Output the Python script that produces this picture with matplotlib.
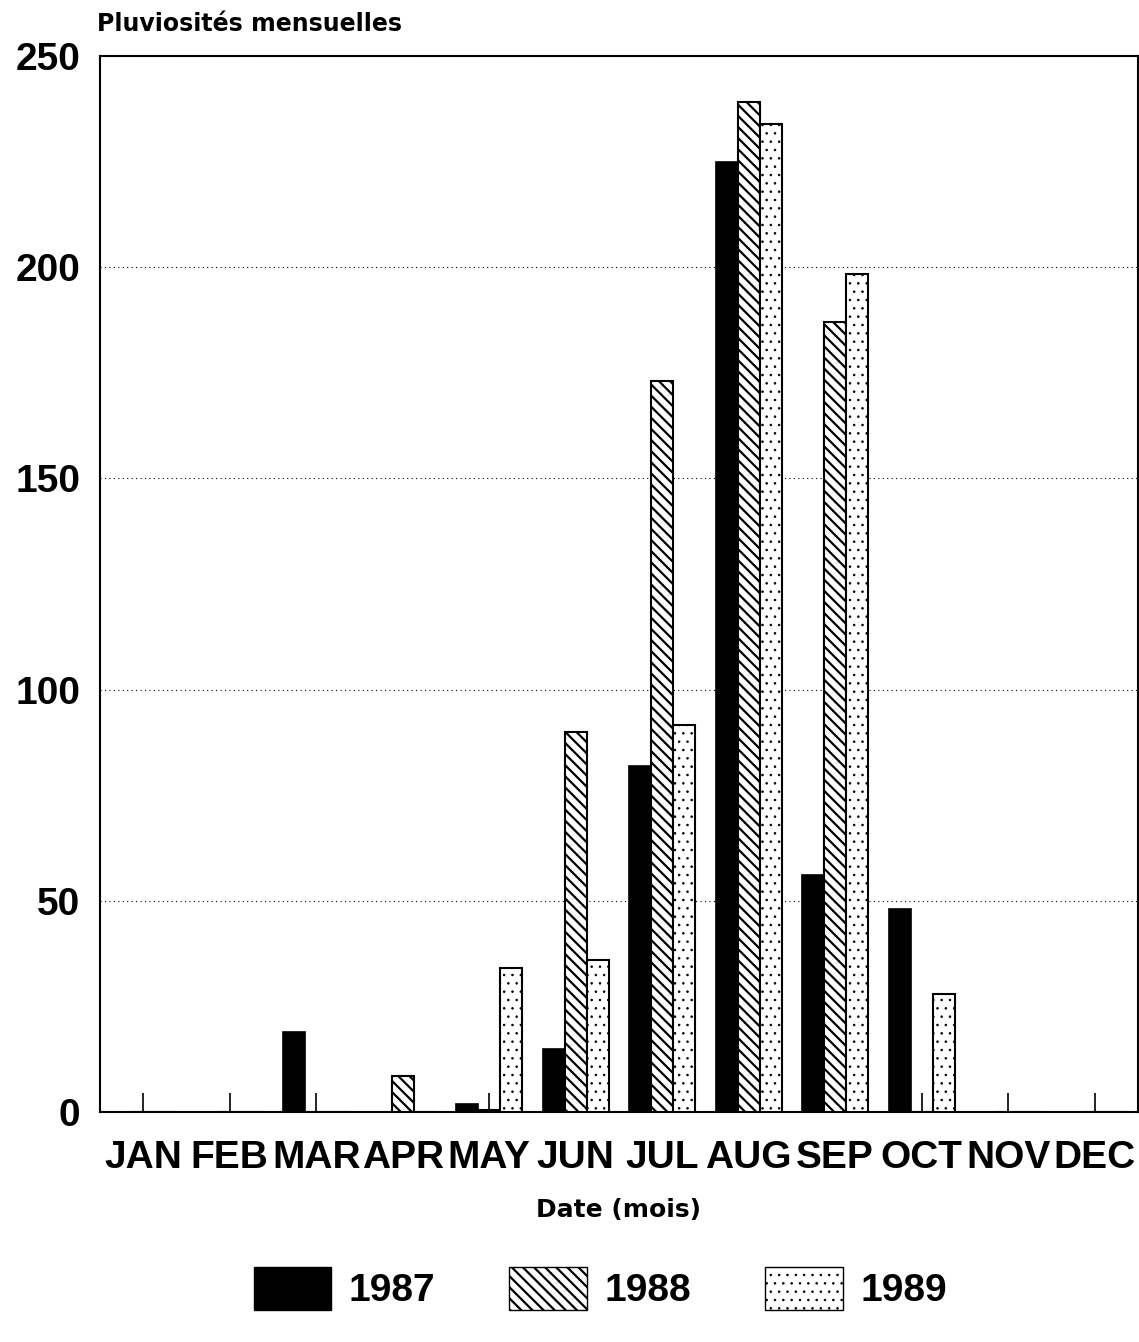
import numpy as np
import matplotlib.pyplot as plt
from matplotlib.patches import Patch

# --- dati (mm di pioggia per mese) ---
months = ["JAN", "FEB", "MAR", "APR", "MAY", "JUN", "JUL", "AUG", "SEP", "OCT", "NOV", "DEC"]
rain_1987 = [0, 0, 19, 0, 2, 15, 82, 225, 56, 48, 0, 0]
rain_1988 = [0, 0, 0, 8.5, 0.5, 90, 173, 239, 187, 0, 0, 0]
rain_1989 = [0, 0, 0, 0, 34, 36, 91.5, 234, 198.5, 28, 0, 0]
years = ["1987", "1988", "1989"]
y_ticks = [0, 50, 100, 150, 200, 250]

plt.rcParams['font.family'] = ['Liberation Sans', 'DejaVu Sans']

fig = plt.figure(figsize=(11.39, 13.42), dpi=100)
ax = fig.add_axes([0.0878, 0.1714, 0.9112, 0.7869])

x = np.arange(len(months))
w = 0.255
ax.bar(x - w, rain_1987, w, color="black", edgecolor="black", linewidth=1.2, zorder=3)
# lo spessore del tratteggio viene letto alla creazione della patch
plt.rcParams['hatch.linewidth'] = 1.6
ax.bar(x, rain_1988, w, color="white", edgecolor="black", hatch="\\\\\\", linewidth=1.5, zorder=3)
plt.rcParams['hatch.linewidth'] = 0.6
ax.bar(x + w, rain_1989, w, color="white", edgecolor="black", hatch="..", linewidth=1.5, zorder=3)

ax.set_xlim(-0.5, 11.5)
ax.set_ylim(0, 250)
ax.set_yticks(y_ticks)
ax.set_xticks(x)
ax.set_xticklabels(months)
ax.tick_params(axis="x", direction="in", length=14, width=1.2, pad=20, labelsize=28)
ax.tick_params(axis="y", length=0, pad=14, labelsize=28)
for lab in ax.get_xticklabels() + ax.get_yticklabels():
    lab.set_fontweight("bold")

ax.grid(axis="y", linestyle=(0, (1, 3)), color="black", linewidth=0.8, zorder=0)
for s in ax.spines.values():
    s.set_linewidth(1.5)

ax.set_xlabel("Date (mois)", fontsize=18, fontweight="bold", labelpad=16,
              family="DejaVu Sans")
fig.text(0.085, 0.973, "Pluviosités mensuelles", fontsize=17, fontweight="bold",
         ha="left", va="bottom", family="DejaVu Sans")

handles = [Patch(facecolor="black", edgecolor="black"),
           Patch(facecolor="white", edgecolor="black", hatch="\\\\\\"),
           Patch(facecolor="white", edgecolor="black", hatch="..")]
leg = fig.legend(handles, years, loc="center", bbox_to_anchor=(0.527, 0.04), ncol=3,
                 frameon=False, prop={"size": 28, "weight": "bold"},
                 handlelength=2.0, handleheight=1.3, columnspacing=1.9, handletextpad=0.45)

# spessore del tratteggio nei riquadri della legenda
for p, lw in zip(leg.get_patches(), [1.6, 1.6, 0.6]):
    if hasattr(p, "set_hatch_linewidth"):
        p.set_hatch_linewidth(lw)
    else:
        p._hatch_linewidth = lw

fig.savefig("out.png", dpi=100)
